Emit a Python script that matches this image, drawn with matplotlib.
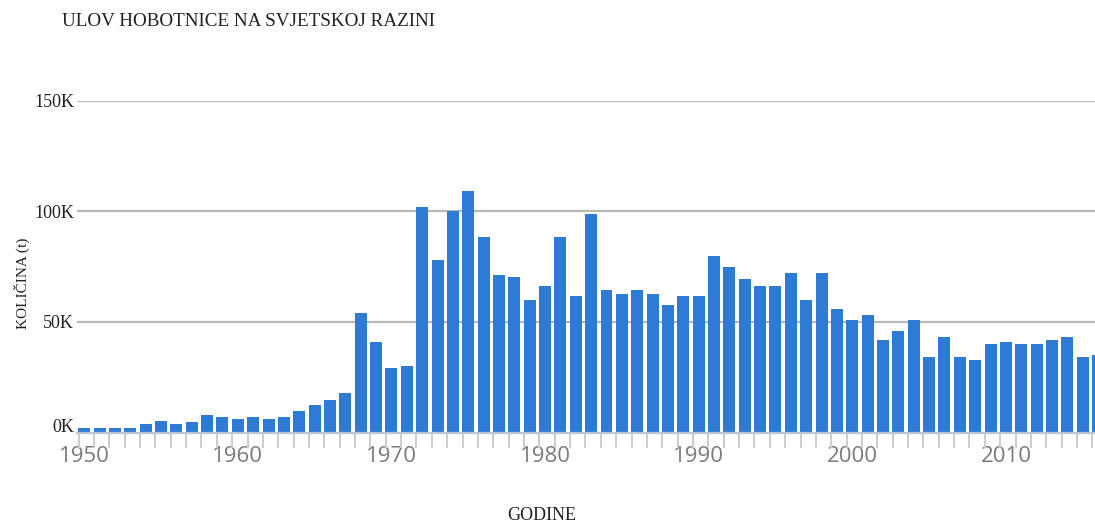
import matplotlib
matplotlib.use("Agg")
import matplotlib.pyplot as plt
from matplotlib.ticker import FuncFormatter, FixedLocator

years = list(range(1950, 2017))
catch_k = [2, 2, 2, 2, 4, 5, 4, 4.6, 7.7, 6.8,
           5.9, 6.8, 5.9, 6.8, 9.6, 12.5, 14.6, 17.7, 54, 41,
           29, 30, 102, 78, 100.3, 109, 88.5, 71.3, 70.4, 59.7,
           66.4, 88.5, 61.6, 99, 64.4, 62.6, 64.4, 62.6, 57.7, 61.6,
           61.6, 80, 75, 69.3, 66.4, 66.4, 72.2, 60, 72.2, 56,
           51, 53, 42, 46, 51, 34, 43, 34, 33, 40,
           41, 40, 40, 42, 43, 34, 35]
catch_t = [v * 1000 for v in catch_k]
y_ticks = [0, 50000, 100000, 150000]
x_label_years = [1950, 1960, 1970, 1980, 1990, 2000, 2010]

title = "ULOV HOBOTNICE NA SVJETSKOJ RAZINI"
ylabel = "KOLIČINA (t)"
xlabel = "GODINE"

W, H = 1095, 523
fig = plt.figure(figsize=(W / 100, H / 100), dpi=100)
ax = fig.add_axes([77 / W, (H - 432.5) / H, 1 - 77 / W, (432.5 - 100.7) / H])

ax.bar(years, catch_t, width=0.78, color="#2e7bd5", zorder=3)

ax.set_ylim(0, 150000)
ax.set_xlim(1949.53, 2015.8)

# grid
for v in y_ticks[1:]:
    ax.axhline(v, color="#b8b8b8", lw=1.6, zorder=1)

for s in ["top", "right", "left"]:
    ax.spines[s].set_visible(False)
ax.spines["bottom"].set_color("#b9c6d6")
ax.spines["bottom"].set_linewidth(1.6)
ax.spines["bottom"].set_zorder(4)

ax.yaxis.set_major_locator(FixedLocator(y_ticks))
ax.yaxis.set_major_formatter(FuncFormatter(lambda v, p: f"{int(v/1000)}K"))
ax.tick_params(axis="y", length=0, pad=2, labelsize=13, labelcolor="#222222")
for lab in ax.get_yticklabels():
    lab.set_family("Liberation Serif")
ylabs = ax.get_yticklabels()
ylabs[0].set_va("baseline")

ax.xaxis.set_major_locator(FixedLocator(x_label_years))
ax.xaxis.set_minor_locator(FixedLocator([y - 0.37 for y in years]))
ax.tick_params(axis="x", which="major", length=0, pad=10, labelsize=16, labelcolor="#7a7a7a")
ax.tick_params(axis="x", which="minor", length=11, width=1.4, color="#cccccc")
for lab in ax.get_xticklabels():
    lab.set_family("Open Sans")

fig.text(62 / W, 1 - 21 / H, title, family="Liberation Serif", fontsize=13.8,
         color="#222222", ha="left", va="center")
fig.text(22 / W, 1 - 283 / H, ylabel, family="Liberation Serif", fontsize=11,
         color="#222222", rotation=90, ha="center", va="center")
fig.text(542 / W, 1 - 515 / H, xlabel, family="Liberation Serif", fontsize=13,
         color="#222222", ha="center", va="center")

fig.savefig("out.png", dpi=100)
